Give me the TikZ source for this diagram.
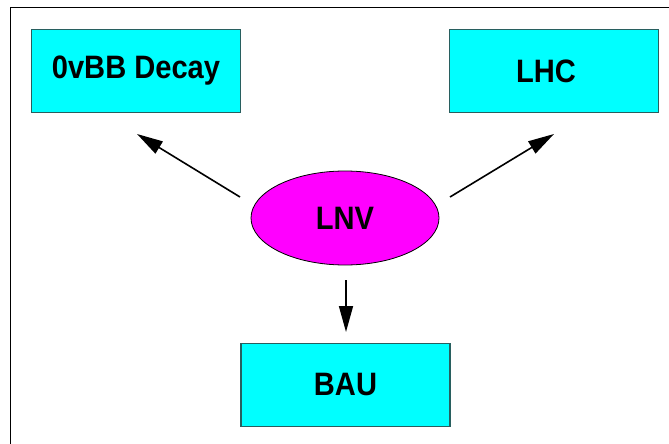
\documentclass[tikz,border=0pt]{standalone}
\usepackage{fontspec}
\setmainfont{Liberation Sans}
\usetikzlibrary{shapes.geometric,arrows.meta}
\definecolor{boxfill}{RGB}{0,255,255}
\definecolor{boxline}{RGB}{40,95,95}
\definecolor{ellfill}{RGB}{255,0,255}
\tikzset{
  stagebox/.style={draw=boxline, line width=1.2pt, fill=boxfill, rectangle,
    minimum width=209pt, minimum height=83pt, inner sep=0pt,
    font=\fontsize{30}{31}\selectfont\bfseries},
  hub/.style={draw=black, line width=0.8pt, fill=ellfill, ellipse,
    minimum width=188pt, minimum height=94pt, inner sep=0pt,
    font=\fontsize{30}{31}\selectfont\bfseries},
  link/.style={draw=black, line width=1.6pt, -{Triangle[length=26pt,width=14pt]}},
}
\newcommand{\tall}[1]{\scalebox{0.97}[1.08]{#1}}
\begin{document}
\begin{tikzpicture}[x=1pt,y=-1pt]
\useasboundingbox (0,0) rectangle (669,444);
\draw[line width=1pt] (10,444) -- (10,8) -- (669,8);
\node[stagebox] (dbd) at (136,71) {\raisebox{-4pt}{\tall{0vBB Decay}}};
\node[stagebox] (lhc) at (554,71) {\hspace*{-16pt}\raisebox{-6pt}{\tall{LHC}}};
\node[stagebox] (bau) at (345.5,385) {\tall{BAU}};
\node[hub] (lnv) at (345,218) {\raisebox{-3pt}{\tall{LNV}}};
\coordinate (l0) at (240,197);
\coordinate (l1) at (137,134);
\coordinate (r0) at (450,197);
\coordinate (r1) at (554,134);
\coordinate (d0) at (346,280);
\coordinate (d1) at (346,332);
\draw[link] (l0) -- (l1);
\draw[link] (r0) -- (r1);
\draw[link] (d0) -- (d1);
\end{tikzpicture}
\end{document}
